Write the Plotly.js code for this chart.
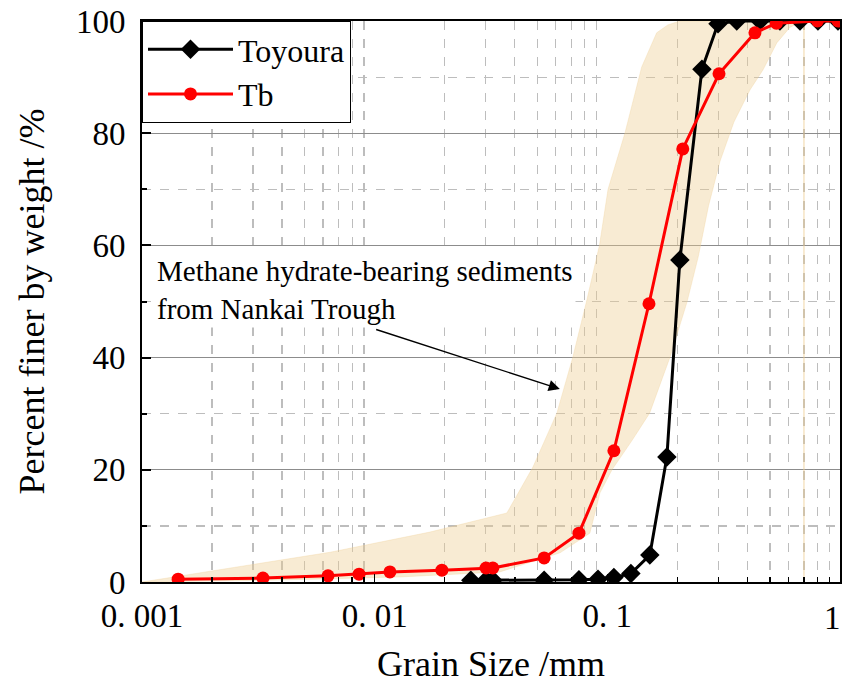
<!DOCTYPE html>
<html>
<head>
<meta charset="utf-8">
<script src="https://cdn.plot.ly/plotly-3.0.1.min.js"></script>
<style>html,body{margin:0;padding:0;background:#fff;}#chart{width:845px;height:684px;}</style>
</head>
<body>
<div id="chart"></div>
<script>
// Toyoura sand gradation
const toyouraSize = [0.0259, 0.0301, 0.0322, 0.0535, 0.0755, 0.0912, 0.1067, 0.1262, 0.1523, 0.1803, 0.205, 0.255, 0.299, 0.360, 0.453, 0.552, 0.673, 0.804, 0.980];
const toyouraPass = [0.3, 0.3, 0.3, 0.3, 0.4, 0.5, 0.8, 1.5, 4.8, 22.3, 57.4, 91.4, 99.5, 100, 100, 100, 100, 100, 100];
// Tb gradation
const tbSize = [0.00143, 0.00331, 0.0063, 0.00857, 0.01163, 0.01945, 0.0301, 0.0322, 0.0535, 0.0755, 0.1067, 0.151, 0.211, 0.302, 0.431, 0.533, 0.80, 0.98];
const tbPass = [0.5, 0.7, 1.1, 1.4, 1.8, 2.1, 2.5, 2.5, 4.3, 8.7, 23.4, 49.6, 77.2, 90.6, 97.9, 99.6, 100, 100];
// Nankai Trough band (outline: fine-side edge upward, then coarse-side edge downward)
const bandSize = [0.001, 0.00239, 0.00643, 0.01728, 0.037, 0.0479, 0.0607, 0.0711, 0.0817, 0.0926, 0.1007, 0.119, 0.1405, 0.163, 0.182, 0.205,
                  0.70, 0.610, 0.535, 0.467, 0.410, 0.350, 0.305, 0.272, 0.246, 0.220, 0.186, 0.152, 0.128, 0.1047, 0.093, 0.0841, 0.0626, 0.0345, 0.01285, 0.00392, 0.001];
const bandPass = [0, 2.5, 5.3, 8.9, 12.3, 20.5, 30.1, 40.1, 50.3, 60.1, 70.0, 80.0, 91.8, 97.9, 99.3, 100,
                  100, 98.9, 96.1, 91.3, 87.7, 82.0, 75.0, 67.0, 58.0, 49.9, 40.1, 30.1, 25.3, 20.0, 15.9, 8.7, 5.2, 1.8, 0.9, 0.35, 0];
const bandLineSize = [0.7, 0.7];
const bandLinePass = [0, 100];
// Axis ticks
const xTickVals = [0.001, 0.01, 0.1, 1];
const xTickText = ['0. 001', '0. 01', '0. 1', ''];
const xLastTickText = '1';
const xMinorVals = [0.002,0.003,0.004,0.005,0.006,0.007,0.008,0.009,
                    0.02,0.03,0.04,0.05,0.06,0.07,0.08,0.09,
                    0.2,0.3,0.4,0.5,0.6,0.7,0.8,0.9];
const yTickVals = [0, 20, 40, 60, 80, 100];
const annText = 'Methane hydrate-bearing sediments<br>from Nankai Trough';
const annTextPos = [0.00113, 52.0];
const arrowHead = [0.0625, 34.4];
const arrowTail = [0.0100, 45.1];

const FONT = 'Liberation Serif';

const traces = [
  {x: bandSize, y: bandPass, mode: 'lines', fill: 'toself', fillcolor: 'rgba(238,205,145,0.40)',
   line: {color: 'rgba(238,205,145,0.3)', width: 1}, showlegend: false, hoverinfo: 'skip'},
  {x: bandLineSize, y: bandLinePass, mode: 'lines', line: {color: 'rgba(238,205,145,0.55)', width: 1.5},
   showlegend: false, hoverinfo: 'skip'},
  {x: toyouraSize, y: toyouraPass, name: 'Toyoura', mode: 'lines+markers',
   line: {color: '#000', width: 3}, marker: {symbol: 'diamond', size: 15, color: '#000'}},
  {x: tbSize, y: tbPass, name: 'Tb', mode: 'lines+markers',
   line: {color: '#ff0000', width: 3}, marker: {symbol: 'circle', size: 13, color: '#ff0000'}}
];

const layout = {
  width: 845, height: 684,
  margin: {l: 142, r: 5, t: 21, b: 102},
  paper_bgcolor: '#fff', plot_bgcolor: '#fff',
  font: {family: FONT, color: '#000'},
  showlegend: true,
  legend: {x: 0, y: 1, xanchor: 'left', yanchor: 'top', bgcolor: '#fff', bordercolor: '#000', borderwidth: 1,
           font: {family: FONT, size: 32, color: '#000'}, itemwidth: 85, tracegroupgap: 0},
  xaxis: {
    type: 'log', range: [-3, 0], tickvals: xTickVals, ticktext: xTickText,
    ticks: 'inside', ticklen: 8, tickwidth: 1.5, tickcolor: '#000',
    showline: true, linecolor: '#000', linewidth: 2, mirror: true,
    showgrid: false, zeroline: false,
    tickfont: {family: FONT, size: 33, color: '#000'}, ticklabelstandoff: 3,
    minor: {tickvals: xMinorVals, ticks: 'inside', ticklen: 5, tickcolor: '#000', showgrid: true,
            gridcolor: '#bdbdbd', griddash: 'dash', gridwidth: 1.2},
    title: {text: 'Grain Size /mm', font: {family: FONT, size: 36, color: '#000'}, standoff: 18}
  },
  yaxis: {
    range: [0, 100], tickvals: yTickVals,
    ticks: 'inside', ticklen: 9, tickwidth: 2, tickcolor: '#000',
    showline: true, linecolor: '#000', linewidth: 2, mirror: true,
    showgrid: true, gridcolor: '#8c8c8c', gridwidth: 1.2, zeroline: false,
    tickfont: {family: FONT, size: 33, color: '#000'}, ticklabelstandoff: 8,
    minor: {dtick: 10, ticks: 'inside', ticklen: 5, tickcolor: '#000', showgrid: true,
            gridcolor: '#bdbdbd', griddash: 'dash', gridwidth: 1.2},
    title: {text: 'Percent finer by weight /%', font: {family: FONT, size: 36, color: '#000'}, standoff: 20}
  },
  annotations: [
    {x: Math.log10(annTextPos[0]), y: annTextPos[1], xref: 'x', yref: 'y', text: annText, showarrow: false,
     xanchor: 'left', yanchor: 'middle', align: 'left', bgcolor: '#fff', borderpad: 2,
     font: {family: FONT, size: 29, color: '#000'}},
    {x: Math.log10(arrowHead[0]), y: arrowHead[1], xref: 'x', yref: 'y',
     ax: Math.log10(arrowTail[0]), ay: arrowTail[1], axref: 'x', ayref: 'y',
     text: '', showarrow: true, arrowhead: 2, arrowsize: 1.6, arrowwidth: 1.4, arrowcolor: '#000'},
    {x: 1, y: 0, xref: 'paper', yref: 'paper', xanchor: 'right', yanchor: 'top', yshift: -17, xshift: 2,
     text: xLastTickText, showarrow: false, borderpad: 0, font: {family: FONT, size: 33, color: '#000'}}
  ]
};

Plotly.newPlot('chart', traces, layout, {displayModeBar: false, staticPlot: true});
</script>
</body>
</html>
